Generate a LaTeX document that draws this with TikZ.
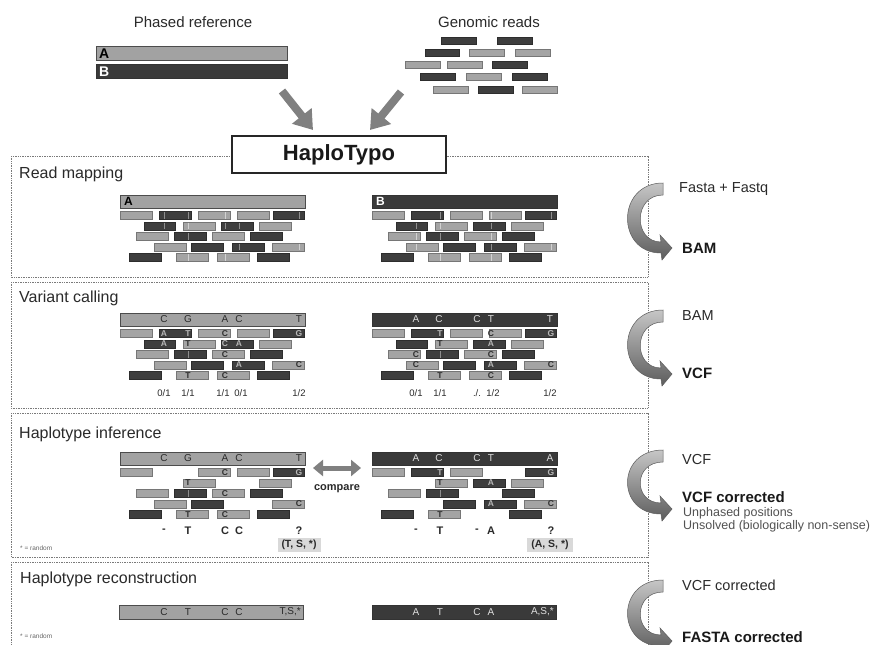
\documentclass[tikz,border=0pt]{standalone}
\usepackage{fontspec}
\setmainfont{Liberation Sans}
\usetikzlibrary{arrows.meta}
\definecolor{readL}{HTML}{A4A4A4}
\definecolor{readD}{HTML}{3E3E3E}
\definecolor{barLc}{HTML}{A2A2A2}
\definecolor{barDc}{HTML}{3A3A3A}
\definecolor{txt}{HTML}{2A2A2A}
\definecolor{boxline}{HTML}{7A7A7A}
\definecolor{arrcol}{HTML}{808080}
\definecolor{arrlight}{HTML}{C6C6C6}
\definecolor{arrdark}{HTML}{5C5C5C}
\definecolor{letL}{HTML}{2E2E2E}
\definecolor{letD}{HTML}{B8B8B8}
\definecolor{markL}{HTML}{D2D2D2}
\definecolor{markD}{HTML}{8E8E8E}
\definecolor{altfill}{HTML}{D9D9D9}
\definecolor{barletD}{HTML}{E0E0E0}
\newcounter{HTn}
\tikzset{
 autoname/.code={\stepcounter{HTn}\pgfkeysalso{name/.expanded=nd\arabic{HTn}}},
 secbox/.style={draw=boxline, line width=0.9pt, dash pattern=on 1pt off 0.7pt},
 sectitle/.style={anchor=west, font=\fontsize{16}{18}\selectfont, text=txt, inner sep=0pt},
 toptitle/.style={font=\fontsize{15}{17}\selectfont, text=txt, inner sep=0pt},
 rlabel/.style={anchor=west, font=\fontsize{14.5}{16}\selectfont, text=txt, inner sep=0pt},
 rlabelb/.style={anchor=west, font=\fontsize{15}{17}\selectfont\bfseries, text=black!90, inner sep=0pt},
 rsmall/.style={anchor=west, font=\fontsize{12.5}{14}\selectfont, text=black!68, inner sep=0pt},
 rlet/.style={font=\fontsize{8.5}{9}\selectfont\bfseries, inner sep=0pt},
 blet/.style={font=\fontsize{10}{11}\selectfont, inner sep=0pt},
 gtlab/.style={font=\fontsize{9.5}{11}\selectfont, text=txt, inner sep=0pt},
 hilab/.style={font=\fontsize{11}{12}\selectfont\bfseries, text=txt, inner sep=0pt},
 altbox/.style={fill=altfill, font=\fontsize{10.5}{12}\selectfont\bfseries, text=txt, inner xsep=4pt, inner ysep=2pt},
 randlab/.style={anchor=west, font=\fontsize{6.5}{7}\selectfont, text=black!60, inner sep=0pt},
 barlight/.style={fill=barLc, draw=black!70, line width=0.8pt},
 bardark/.style={fill=barDc, draw=black!80, line width=0.8pt},
 barname/.style={anchor=west, font=\fontsize{12}{13}\selectfont\bfseries, inner sep=0pt},
 bigarrow/.style={line width=8pt, draw=arrcol, -{Triangle[length=18pt,width=24pt]}},
}
\newcommand{\HTreads}[3]{%
 \foreach \r/\a/\b/\c in #3 {%
  \path[fill=\c, draw=\c!72!black, line width=0.4pt] ({#1+\a},{#2+16.5+10.5*(\r-1)}) rectangle ({#1+\b},{#2+24.5+10.5*(\r-1)});
 }}
\newcommand{\HTletters}[3]{%
 \foreach \r/\v/\l/\c in #3 {%
  \node[autoname, rlet, text=\c] at ({#1+\v},{#2+20.5+10.5*(\r-1)}) {\l};
 }}
\newcommand{\HTmarks}[3]{%
 \foreach \r/\v/\c in #3 {%
  \path[draw=\c, line width=1pt] ({#1+\v},{#2+17.2+10.5*(\r-1)}) -- ({#1+\v},{#2+23.8+10.5*(\r-1)});
 }}
\newcommand{\HTbarlet}[4]{%
 \foreach \v/\l in #4 {\node[autoname, blet, text=#3] at ({#1+\v},#2) {\l};}}
\newcommand{\HTlabels}[4]{%
 \foreach \v/\l in #4 {\node[autoname, #3] at ({#1+\v},#2) {\l};}}
\newcommand{\HTbend}[3]{%
 \path[draw=arrdark, line width=0.5pt, top color=arrlight, bottom color=arrdark]
  (#1,#2) .. controls ({#1-47},#2) and ({#1-47},{#2+#3+6}) .. ({#1-2},{#2+#3+6})
  -- ({#1-1},{#2+#3+13}) -- ({#1+9},{#2+#3+1}) -- ({#1-3},{#2+#3-12}) -- ({#1-2},{#2+#3-5})
  .. controls ({#1-30},{#2+#3-5}) and ({#1-30},{#2+12}) .. (#1,{#2+12}) -- cycle;}
\newcommand{\HTall}{1/0/32/readL, 1/39/71/readD, 1/78/110/readL, 1/117/149/readL, 1/153/184/readD,
 2/24/55/readD, 2/63/95/readL, 2/101/133/readD, 2/139/171/readL,
 3/16/48/readL, 3/54/86/readD, 3/92/124/readL, 3/130/162/readD,
 4/34/66/readL, 4/71/103/readD, 4/112/144/readD, 4/152/184/readL,
 5/9/41/readD, 5/56/88/readL, 5/97/129/readL, 5/137/169/readD}
\newcommand{\HTmarksA}{1/44/markD, 1/68/markD, 1/105/markL, 1/179/markD, 2/44/markD, 2/68/markL, 2/105/markD, 2/119/markD, 3/68/markD, 4/119/markD, 4/179/markL, 5/68/markL, 5/105/markL}
\newcommand{\HTmarksB}{1/68/markD, 1/119/markL, 1/179/markD, 2/44/markD, 2/68/markL, 2/119/markD, 3/44/markL, 3/68/markD, 3/119/markL, 4/44/markL, 4/119/markD, 4/179/markL, 5/68/markL, 5/119/markL}
\newcommand{\HTvcA}{1/44/A/letD, 1/68/T/letD, 1/105/C/letL, 1/179/G/letD,
 2/44/A/letD, 2/68/T/letL, 2/105/C/letD, 2/119/A/letD, 3/105/C/letL,
 4/119/A/letD, 4/179/C/letL, 5/68/T/letL, 5/105/C/letL}
\newcommand{\HTvcB}{1/68/T/letD, 1/119/C/letL, 1/179/G/letD, 2/68/T/letL, 2/119/A/letD,
 3/44/C/letL, 3/119/C/letL, 4/44/C/letL, 4/119/A/letD, 4/179/C/letL, 5/68/T/letL, 5/119/C/letL}
\newcommand{\HTmid}{3/68/markD}
\newcommand{\HThiAreads}{1/0/32/readL, 1/78/110/readL, 1/117/149/readL, 1/153/184/readD,
 2/63/95/readL, 2/139/171/readL,
 3/16/48/readL, 3/54/86/readD, 3/92/124/readL, 3/130/162/readD,
 4/34/66/readL, 4/71/103/readD, 4/152/184/readL,
 5/9/41/readD, 5/56/88/readL, 5/97/129/readL, 5/137/169/readD}
\newcommand{\HThiBreads}{1/0/32/readL, 1/39/71/readD, 1/78/110/readL, 1/153/184/readD,
 2/63/95/readL, 2/101/133/readD, 2/139/171/readL,
 3/16/48/readL, 3/54/86/readD, 3/130/162/readD,
 4/71/103/readD, 4/112/144/readD, 4/152/184/readL,
 5/9/41/readD, 5/56/88/readL, 5/137/169/readD}
\newcommand{\HThiAlet}{1/105/C/letL, 1/179/G/letD, 2/68/T/letL, 3/105/C/letL, 4/179/C/letL, 5/68/T/letL, 5/105/C/letL}
\newcommand{\HThiBlet}{1/68/T/letD, 1/179/G/letD, 2/68/T/letL, 2/119/A/letD, 4/119/A/letD, 4/179/C/letL, 5/68/T/letL}
\newcommand{\HTbarA}{44/C, 68/G, 105/A, 119/C, 179/T}
\newcommand{\HTbarB}{44/A, 67/C, 105/C, 119/T, 178/T}
\newcommand{\HTbarBhi}{44/A, 67/C, 105/C, 119/T, 178/A}
\newcommand{\HTbarAhr}{44/C, 68/T, 105/C, 119/C}
\newcommand{\HTbarBhr}{44/A, 68/T, 105/C, 119/A}
\newcommand{\HTgtA}{44/{0/1}, 68/{1/1}, 103/{1/1}, 121/{0/1}, 179/{1/2}}
\newcommand{\HTgtB}{44/{0/1}, 68/{1/1}, 105/{./.}, 121/{1/2}, 178/{1/2}}
\newcommand{\HThiA}{44/-, 68/T, 105/C, 119/C, 179/?}
\newcommand{\HThiB}{44/-, 68/T, 105/-, 119/A, 179/?}
\newcommand{\HTgenreads}{441/476/37/readD, 497/532/37/readD,
 425/459/49/readD, 469/504/49/readL, 515/550/49/readL,
 405/440/61/readL, 447/482/61/readL, 492/527/61/readD,
 420/455/73/readD, 466/501/73/readL, 512/547/73/readD,
 433/468/86/readL, 478/513/86/readD, 522/557/86/readL}
\begin{document}
\begin{tikzpicture}[x=1pt,y=-1pt]
\path[use as bounding box, clip] (0,0) rectangle (879,645);
\fill[white] (0,0) rectangle (879,645);
% ---------- top ----------
\node[toptitle] (phref) at (193,22) {Phased reference};
\node[toptitle] (genreads) at (489,22) {Genomic reads};
\path[barlight] (96,46) rectangle (287,60);
\path[bardark] (96,64) rectangle (287,78);
\node[barname, font=\fontsize{14}{15}\selectfont\bfseries, text=black] (topA) at (99,53.5) {A};
\node[barname, font=\fontsize{14}{15}\selectfont\bfseries, text=white] (topB) at (99,71.5) {B};
\foreach \a/\b/\yy/\c in \HTgenreads {%
 \path[fill=\c, draw=\c!72!black, line width=0.4pt] (\a,\yy) rectangle (\b,\yy+7);}
% ---------- section boxes ----------
\path[secbox] (11,156) rectangle (648,277);
\path[secbox] (11,282) rectangle (648,408);
\path[secbox] (11,413) rectangle (648,557);
\path[secbox] (11,562) rectangle (648,700);
% ---------- HaploTypo ----------
\node[draw=black!85, line width=1.2pt, fill=white, minimum width=214pt, minimum height=37pt,
 inner sep=0pt, font=\fontsize{22}{25}\selectfont\bfseries, text=black!90] (haplo) at (339,154.5) {HaploTypo};
\coordinate (arrLs) at (282,91); \coordinate (arrLe) at (313,130);
\coordinate (arrRs) at (401,92); \coordinate (arrRe) at (370,130);
\draw[bigarrow] (arrLs) -- (arrLe);
\draw[bigarrow] (arrRs) -- (arrRe);
% ---------- titles ----------
\node[sectitle] (t1) at (19,174) {Read mapping};
\node[sectitle] (t2) at (19,298) {Variant calling};
\node[sectitle] (t3) at (19,434) {Haplotype inference};
\node[sectitle] (t4) at (20,579) {Haplotype reconstruction};
% ---------- read mapping ----------
\path[barlight] (120,195) rectangle (305,208);
\path[bardark] (372,195) rectangle (557,208);
\node[barname, text=black] (rmA) at (124,201.5) {A};
\node[barname, text=white] (rmB) at (376,201.5) {B};
\HTreads{120}{195}{\HTall}
\HTreads{372}{195}{\HTall}
\HTmarks{120}{195}{\HTmarksA}
\HTmarks{372}{195}{\HTmarksB}
% ---------- variant calling ----------
\path[barlight] (120,313) rectangle (305,326);
\path[bardark] (372,313) rectangle (557,326);
\HTbarlet{120}{319.5}{txt}{\HTbarA}
\HTbarlet{372}{319.5}{barletD}{\HTbarB}
\HTreads{120}{313}{\HTall}
\HTreads{372}{313}{\HTall}
\HTmarks{120}{313}{\HTmid}
\HTmarks{372}{313}{\HTmid}
\HTletters{120}{313}{\HTvcA}
\HTletters{372}{313}{\HTvcB}
\HTlabels{120}{393}{gtlab}{\HTgtA}
\HTlabels{372}{393}{gtlab}{\HTgtB}
% ---------- haplotype inference ----------
\path[barlight] (120,452) rectangle (305,465);
\path[bardark] (372,452) rectangle (557,465);
\HTbarlet{120}{458.5}{txt}{\HTbarA}
\HTbarlet{372}{458.5}{barletD}{\HTbarBhi}
\HTreads{120}{452}{\HThiAreads}
\HTreads{372}{452}{\HThiBreads}
\HTmarks{120}{452}{\HTmid}
\HTmarks{372}{452}{\HTmid}
\HTletters{120}{452}{\HThiAlet}
\HTletters{372}{452}{\HThiBlet}
\HTlabels{120}{531}{hilab}{\HThiA}
\HTlabels{372}{531}{hilab}{\HThiB}
\node[altbox] (altA) at (299,545) {(T, S, *)};
\node[altbox] (altB) at (550,545) {(A, S, *)};
\coordinate (cmpL) at (313,468); \coordinate (cmpR) at (361,468);
\draw[line width=5pt, draw=arrcol, {Triangle[length=10pt,width=16pt]}-{Triangle[length=10pt,width=16pt]}] (cmpL) -- (cmpR);
\node[hilab] (cmp) at (337,489) {compare};
\node[randlab] (rand1) at (20,548) {* = random};
% ---------- haplotype reconstruction ----------
\path[barlight] (119,605) rectangle (303,619);
\path[bardark] (372,605) rectangle (556,619);
\HTbarlet{120}{612}{txt}{\HTbarAhr}
\HTbarlet{372}{612}{barletD}{\HTbarBhr}
\node[blet, text=txt, anchor=east] (hrA) at (301,612) {T,S,*};
\node[blet, text=barletD, anchor=east] (hrB) at (554,612) {A,S,*};
\node[randlab] (rand2) at (20,636) {* = random};
% ---------- right-hand curved arrows ----------
\HTbend{663}{183}{64}
\HTbend{663}{310}{63}
\HTbend{663}{450}{58}
\HTbend{663}{580}{60}
\node[rlabel] (in1) at (679,189) {Fasta + Fastq};
\node[rlabelb] (out1) at (682,248) {BAM};
\node[rlabel] (in2) at (682,316) {BAM};
\node[rlabelb] (out2) at (682,373) {VCF};
\node[rlabel] (in3) at (682,460) {VCF};
\node[rlabelb] (out3) at (682,497) {VCF corrected};
\node[rsmall] (note1) at (683,513) {Unphased positions};
\node[rsmall] (note2) at (683,526) {Unsolved (biologically non-sense)};
\node[rlabel] (in4) at (682,585) {VCF corrected};
\node[rlabelb] (out4) at (682,637) {FASTA corrected};
\end{tikzpicture}
\end{document}
